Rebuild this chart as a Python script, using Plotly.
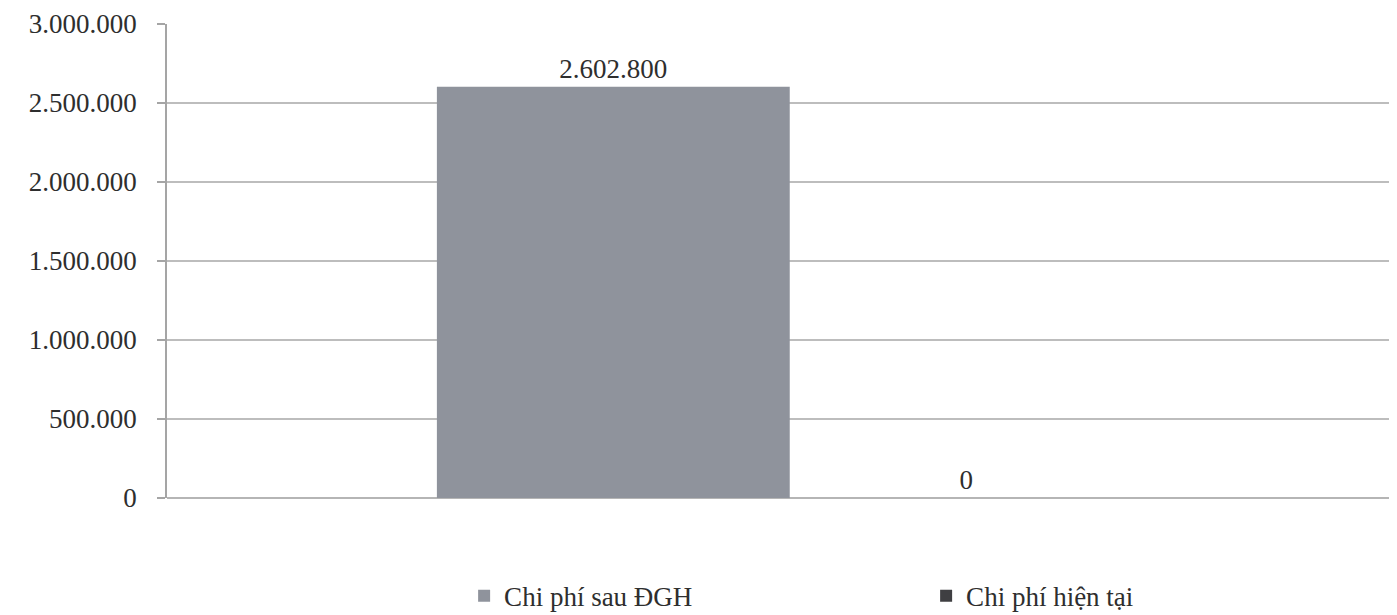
import plotly.graph_objects as go

categories = [""]
series_names = ["Chi phí sau ĐGH", "Chi phí hiện tại"]
series_values = [[2602800], [0]]
series_colors = ["#8f939c", "#3f3f42"]
y_ticks = [0, 500000, 1000000, 1500000, 2000000, 2500000, 3000000]

FONT = "Liberation Serif, Times New Roman, serif"

fig = go.Figure()
for name, vals, col in zip(series_names, series_values, series_colors):
    fig.add_trace(go.Bar(
        x=categories, y=vals, name=name,
        marker=dict(color=col, line=dict(width=0)),
        texttemplate="%{y:,d}", textposition="outside",
        textfont=dict(family=FONT, size=27, color="#2e2e2e"),
        cliponaxis=False,
    ))

fig.update_layout(
    width=1397, height=615,
    margin=dict(l=159, r=0, t=16, b=125, autoexpand=False),
    paper_bgcolor="white", plot_bgcolor="white",
    separators=",.",
    barmode="group", bargap=0.4334, bargroupgap=0,
    font=dict(family=FONT, size=27, color="#2e2e2e"),
    showlegend=True,
    legend=dict(
        orientation="h", x=0.24, xanchor="left", y=-0.207, yanchor="middle",
        entrywidth=417, entrywidthmode="pixels",
        font=dict(family=FONT, size=27, color="#2e2e2e"),
        itemsizing="constant", tracegroupgap=0,
    ),
    xaxis=dict(
        range=[-0.5, 0.494], showticklabels=False, showgrid=False,
        showline=False, zeroline=False, ticks="", automargin=False,
    ),
    yaxis=dict(
        range=[0, 3000000], tickvals=y_ticks, tickformat=",d",
        showgrid=True, gridcolor="#bdbdbd", gridwidth=1.5,
        zeroline=True, zerolinecolor="#b5b5b5", zerolinewidth=1.5,
        showline=True, linecolor="#a5a5a5", linewidth=1.5,
        ticks="outside", ticklen=8, tickcolor="#a5a5a5", tickwidth=1.5,
        tickfont=dict(family=FONT, size=27, color="#2e2e2e"),
        ticklabelstandoff=15, automargin=False,
    ),
)

fig.write_html("out.html")
